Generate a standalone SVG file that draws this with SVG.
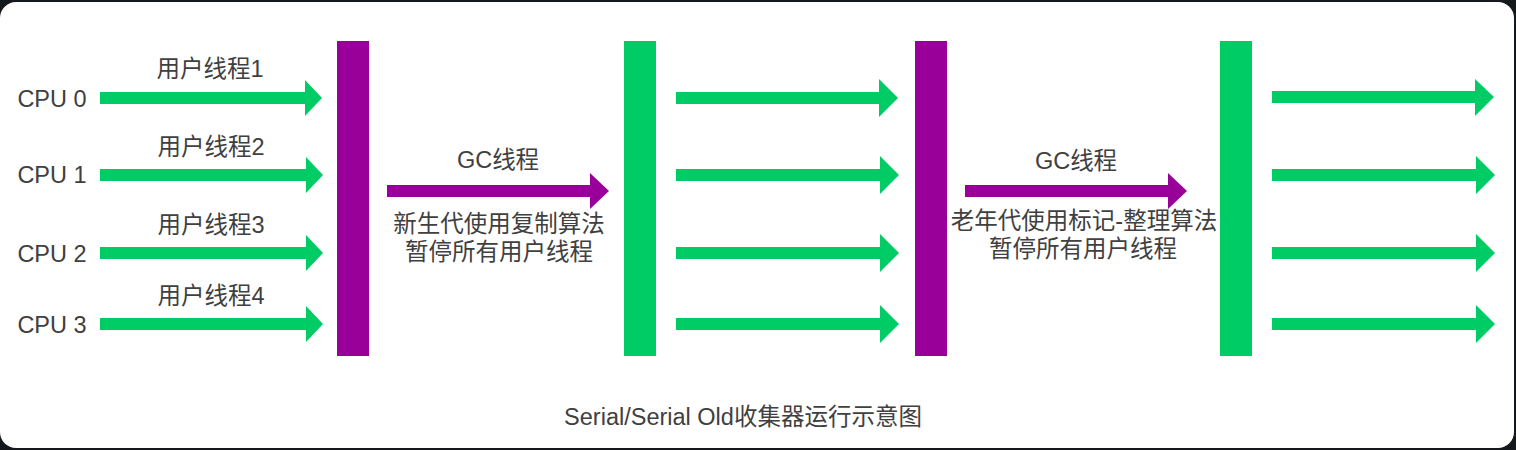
<svg xmlns="http://www.w3.org/2000/svg" width="1516" height="450" viewBox="0 0 1516 450">
<defs>
<style>
.t{font-family:"Liberation Sans","Noto Sans CJK SC",sans-serif;font-size:23.5px;fill:#404040;text-anchor:middle}
.g{fill:#00CC66}
.p{fill:#990099}
</style>
</defs>
<rect x="0" y="0" width="1516" height="450" fill="#15181c"/>
<rect x="0" y="2" width="1514" height="446" rx="16" ry="16" fill="#ffffff"/>

<g id="cpu-labels">
<text class="t" x="52" y="107">CPU 0</text>
<text class="t" x="52" y="183">CPU 1</text>
<text class="t" x="52" y="262">CPU 2</text>
<text class="t" x="52" y="333">CPU 3</text>
</g>

<g id="bar-serial" class="p"><rect x="337" y="41" width="32" height="315"/></g>
<g id="bar-resume1" class="g"><rect x="624" y="41" width="32" height="315"/></g>
<g id="bar-serial-old" class="p"><rect x="915" y="41" width="32" height="315"/></g>
<g id="bar-resume2" class="g"><rect x="1220" y="41" width="32" height="315"/></g>

<g id="connectors">
<g class="g">
<polygon points="100,92 305,92 305,80 322,98 305,116 305,104 100,104"/>
<polygon points="100,169 306,169 306,157 323,175 306,193 306,181 100,181"/>
<polygon points="100,247 306,247 306,235 323,253 306,271 306,259 100,259"/>
<polygon points="100,318 306,318 306,306 323,324 306,342 306,330 100,330"/>
<polygon points="676,92 879,92 879,79 898,98 879,117 879,104 676,104"/>
<polygon points="676,169 880,169 880,156 899,175 880,194 880,181 676,181"/>
<polygon points="676,247 880,247 880,234 899,253 880,272 880,259 676,259"/>
<polygon points="676,318 880,318 880,305 899,324 880,343 880,330 676,330"/>
<polygon points="1272,91 1475,91 1475,79 1494,97 1475,116 1475,103 1272,103"/>
<polygon points="1272,169 1476,169 1476,156 1495,175 1476,194 1476,181 1272,181"/>
<polygon points="1272,247 1476,247 1476,234 1495,253 1476,272 1476,259 1272,259"/>
<polygon points="1272,318 1476,318 1476,305 1495,324 1476,343 1476,330 1272,330"/>
</g>
<g class="p">
<polygon points="387,185 590,185 590,173 609,191 590,209 590,197 387,197"/>
<polygon points="965,185 1168,185 1168,173 1187,191 1168,209 1168,197 965,197"/>
</g>
<g id="edge-labels">
<text class="t" x="210" y="77">用户线程1</text>
<text class="t" x="211" y="155">用户线程2</text>
<text class="t" x="211" y="233">用户线程3</text>
<text class="t" x="211" y="304">用户线程4</text>
<text class="t" x="498" y="168">GC线程</text>
<text class="t" x="499" y="232">新生代使用复制算法</text>
<text class="t" x="499" y="260">暂停所有用户线程</text>
<text class="t" x="1076" y="169">GC线程</text>
<text class="t" x="1084" y="229">老年代使用标记-整理算法</text>
<text class="t" x="1083" y="257">暂停所有用户线程</text>
</g>
</g>

<g id="title">
<text class="t" x="743" y="425">Serial/Serial Old收集器运行示意图</text>
</g>
</svg>
